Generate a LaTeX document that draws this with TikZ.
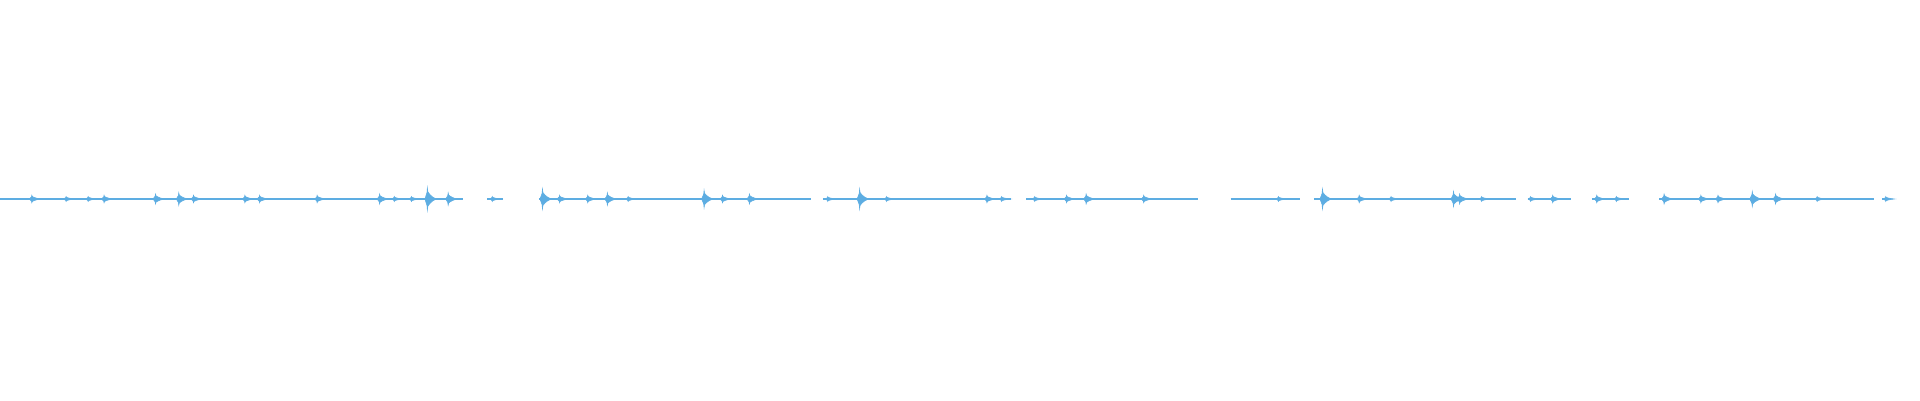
\documentclass[tikz,border=0pt]{standalone}
\definecolor{wave}{HTML}{5DADE2}
\begin{document}
\begin{tikzpicture}[x=1pt,y=1pt,
  base/.style={draw=wave,line width=1.3pt},
  burst/.style={fill=wave,draw=wave,line width=0.6pt}]
\useasboundingbox (0,0) rectangle (1920,400);
\begin{scope}[xscale=1.2245]
\foreach \a/\b in {0/378,398/411,440/662,672/826,838/978,1005/1062,1073/1238,1248/1283,1300/1330,1355/1530,1537/1543}
  \draw[base] (\a,201) -- (\b,201);
\foreach \x/\h in {26/3,54/2,72/2,85/3,127/4,146/5,158/3,200/3,212/3,259/3,310/4,322/2,336/2,349/9,366/5,402/2,443/8,457/3,480/3,496/5,513/2,575/7,590/3,612/4,676/2,702/8,724/2,806/3,818/2,845/2,871/3,887/4,934/3,1044/2,1080/8,1110/3,1136/2,1187/6,1192/4,1210/2,1250/2,1268/3,1304/3,1320/2,1359/4,1389/3,1403/3,1431/6,1450/4,1484/2,1540/2}
  \fill[burst] (\x-2,201) -- (\x-0.3,201+0.7*\h) -- (\x,201+1.22*\h) -- (\x+0.4,201+0.8*\h) -- (\x+2,201+0.5*\h) -- (\x+4,201+0.25*\h) -- (\x+7,201) -- (\x+4,201-0.25*\h) -- (\x+2,201-0.5*\h) -- (\x+0.4,201-0.8*\h) -- (\x,201-1.22*\h) -- (\x-0.3,201-0.7*\h) -- cycle;
\end{scope}
\end{tikzpicture}
\end{document}
